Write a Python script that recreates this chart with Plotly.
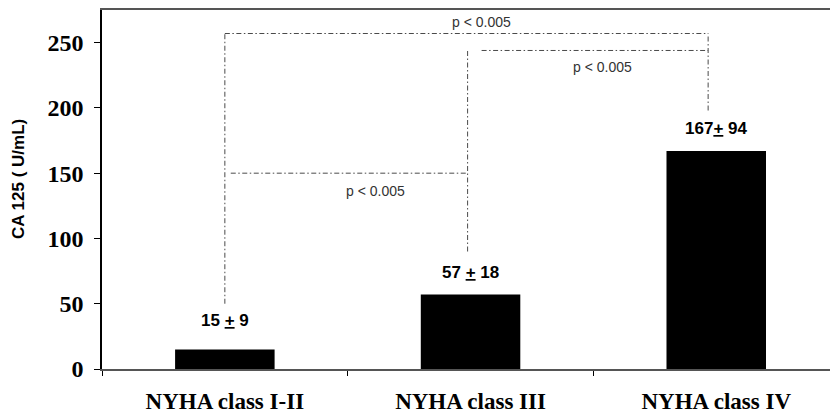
import plotly.graph_objects as go

# ---- data ----
categories = ["NYHA class I-II", "NYHA class III", "NYHA class IV"]
ca125_mean = [15, 57, 167]
ca125_sd = [9, 18, 94]
value_labels = ["15 <u>+</u> 9", "57 <u>+</u> 18", "167<u>+</u> 94"]
value_label_y = [37, 74, 184]
y_ticks = [0, 50, 100, 150, 200, 250]
p_text = "p < 0.005"

# comparison brackets: horizontal (x0, x1, y), verticals (x, y0, y1), label (x, y)
bracket_h = [(0.024, 0.988, 150), (1.045, 1.967, 244), (0.0, 1.967, 257)]
bracket_v = [(0.0, 50, 257), (0.988, 90, 244), (1.967, 198, 257)]
p_label_pos = [(0.614, 136), (1.537, 231), (1.045, 266)]

SERIF = "Liberation Serif, Times New Roman, serif"
SANS = "Liberation Sans, Arial, sans-serif"

fig = go.Figure()
fig.add_trace(go.Bar(
    x=categories, y=ca125_mean,
    marker=dict(color="black", line=dict(width=0)),
    width=0.405, hoverinfo="skip",
))

dash = "5px,2.5px,1.5px,2.5px"
lc = "#4a4a4a"
for x0, x1, y in bracket_h:
    fig.add_shape(type="line", xref="x", yref="y", x0=x0, x1=x1, y0=y, y1=y,
                  line=dict(color=lc, width=1, dash=dash))
for x, y0, y1 in bracket_v:
    fig.add_shape(type="line", xref="x", yref="y", x0=x, x1=x, y0=y0, y1=y1,
                  line=dict(color=lc, width=1, dash=dash))
for x, y in p_label_pos:
    fig.add_annotation(x=x, y=y, xref="x", yref="y", text=p_text, showarrow=False,
                       xanchor="center", yanchor="middle",
                       font=dict(family=SANS, size=14, color="#333333"))

for i, (lab, ly) in enumerate(zip(value_labels, value_label_y)):
    fig.add_annotation(x=i, y=ly, xref="x", yref="y", text=lab,
                       showarrow=False, xanchor="center", yanchor="middle",
                       font=dict(family=SANS, size=17, color="black", weight="bold"))

fig.add_annotation(x=-0.1154, y=0.529, xref="paper", yref="paper",
                   text="CA 125 ( U/mL)", textangle=-90, showarrow=False,
                   xanchor="center", yanchor="middle",
                   font=dict(family=SANS, size=17, color="black", weight="bold"))

fig.update_layout(
    width=830, height=413,
    margin=dict(l=102, r=0, t=10, b=44, autoexpand=False),
    paper_bgcolor="white", plot_bgcolor="white",
    showlegend=False,
    xaxis=dict(
        type="category", range=[-0.5, 2.463],
        showline=True, linecolor="#555555", linewidth=2, mirror=True,
        ticks="outside", tickson="boundaries", ticklen=5, tickcolor="black", tickwidth=1,
        tickfont=dict(family=SERIF, size=23, color="black", weight="bold"),
        ticklabelstandoff=10,
        showgrid=False, zeroline=False,
    ),
    yaxis=dict(
        range=[0, 275], tickvals=y_ticks,
        showline=True, linecolor="black", linewidth=1.5,
        ticks="outside", ticklen=6, tickcolor="black", tickwidth=1,
        tickfont=dict(family=SERIF, size=24, color="black", weight="bold"),
        ticklabelstandoff=6,
        showgrid=False, zeroline=False,
    ),
)

fig.write_html("out.html", config={"displayModeBar": False},
               post_script="document.body.style.margin='0';")
